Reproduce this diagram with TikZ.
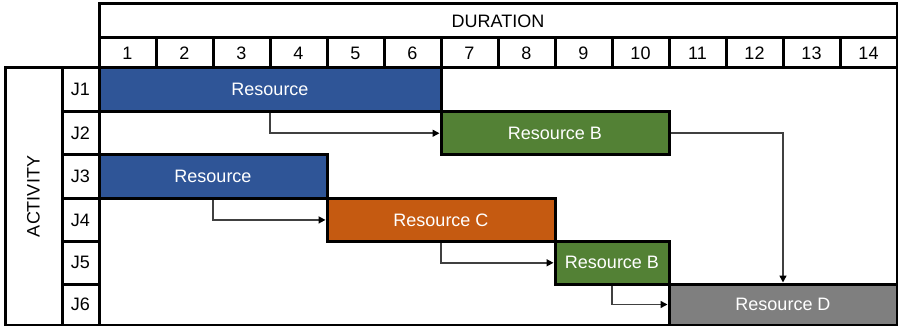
\documentclass[tikz,border=0pt]{standalone}
\usepackage{fontspec}
\setmainfont{Liberation Sans}
\usetikzlibrary{arrows.meta}
\definecolor{resblue}{HTML}{2F5597}
\definecolor{resgreen}{HTML}{538135}
\definecolor{resorange}{HTML}{C55A11}
\definecolor{resgray}{HTML}{7F7F7F}
\definecolor{connc}{HTML}{404040}
\begin{document}
\begin{tikzpicture}[x=1pt,y=-1pt,
  every node/.style={font=\fontsize{18}{20}\selectfont, inner sep=0pt},
  frame/.style={draw=black, line width=3pt},
  cell/.style={draw=black, line width=3pt, rectangle, anchor=center},
  bar/.style={draw=black, line width=3pt, rectangle, text=white, anchor=center},
  conn/.style={draw=connc, line width=1.5pt, -{Triangle[length=7pt,width=7pt]}, arrows={[color=black]}}
]
\useasboundingbox (0,0) rectangle (898,326);
% header
\node[cell, minimum width=798pt, minimum height=34pt] (dur) at (498,21) {DURATION};
\foreach \i in {1,...,14}{
  \node[cell, minimum width=57pt, minimum height=30pt] (d\i) at ({99+57*(\i-0.5)},53) {\i};
}
% body frame
\node[cell, minimum width=798pt, minimum height=257pt] (body) at (498,196.5) {};
% activity column
\node[cell, minimum width=57pt, minimum height=257pt] (act) at (33.5,196.5) {};
\node[rotate=90] (acttext) at (33.5,196.5) {ACTIVITY};
% J labels
\node[cell, minimum width=37pt, minimum height=43.5pt] (j1) at (80.5,89.75) {J1};
\node[cell, minimum width=37pt, minimum height=43.5pt] (j2) at (80.5,133.25) {J2};
\node[cell, minimum width=37pt, minimum height=43.3pt] (j3) at (80.5,176.65) {J3};
\node[cell, minimum width=37pt, minimum height=43.3pt] (j4) at (80.5,219.95) {J4};
\node[cell, minimum width=37pt, minimum height=42.4pt] (j5) at (80.5,262.8) {J5};
\node[cell, minimum width=37pt, minimum height=41pt] (j6) at (80.5,304.5) {J6};
% bars
\node[bar, fill=resblue, minimum width=342pt, minimum height=43.5pt] (b1) at (270,89.75) {Resource};
\node[bar, fill=resgreen, minimum width=228pt, minimum height=43.5pt] (b2) at (555,133.25) {Resource B};
\node[bar, fill=resblue, minimum width=228pt, minimum height=43.3pt] (b3) at (213,176.65) {Resource};
\node[bar, fill=resorange, minimum width=228pt, minimum height=43.3pt] (b4) at (441,219.95) {Resource C};
\node[bar, fill=resgreen, minimum width=114pt, minimum height=42.4pt] (b5) at (612,262.8) {Resource B};
\node[bar, fill=resgray, minimum width=228pt, minimum height=41pt] (b6) at (783,304.5) {Resource D};
% connectors
\draw[conn] (b1.south) |- (b2.west);
\draw[conn] (b3.south) |- (b4.west);
\draw[conn] (b4.south) |- (b5.west);
\draw[conn] (b5.south) |- (b6.west);
\draw[conn] (b2.east) -| (b6.north);
\end{tikzpicture}
\end{document}
